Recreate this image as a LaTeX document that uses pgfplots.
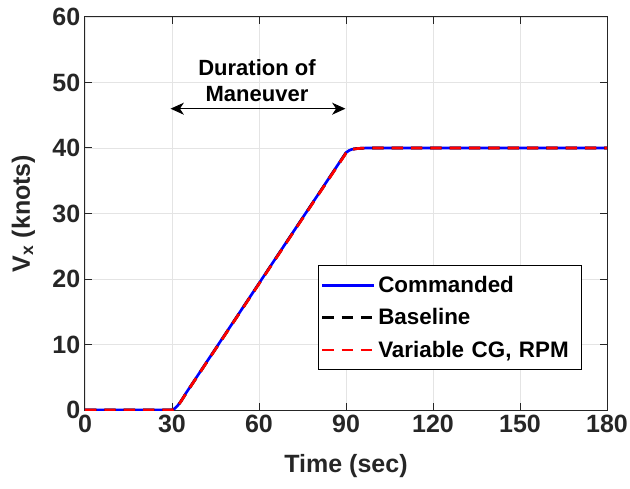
\documentclass[border=0pt]{standalone}
\usepackage{pgfplots}
\pgfplotsset{compat=1.18}
\usepackage{fontspec}
\setmainfont{Liberation Sans}
\usetikzlibrary{arrows.meta}
\pgfplotstableread{
t v
0 0
30 0
31 0.25
32 0.7
33 1.3
34 2.0
35 2.7
90 39.3
91 39.6
92 39.8
94 39.93
97 40
180 40
}\cmd
\pgfplotstableread{
t v
0 0
30 0
31 0.2
32 0.65
33 1.25
34 1.95
35 2.65
90 39.25
91 39.58
92 39.8
94 39.93
97 40
180 40
}\base
\pgfplotstableread{
t v
0 0
30 0
31 0.2
32 0.65
33 1.25
34 1.95
35 2.65
90 39.2
91 39.55
92 39.78
94 39.92
97 40
180 40
}\vari
\definecolor{axgray}{RGB}{38,38,38}
\definecolor{gridgray}{RGB}{228,228,228}
\begin{document}
\begin{tikzpicture}
\begin{axis}[
  name=ax,
  at={(0,0)}, anchor=south west,
  scale only axis,
  width=391.5pt, height=294.75pt,
  xmin=0, xmax=180, ymin=0, ymax=60,
  xtick={0,30,60,90,120,150,180},
  ytick={0,10,20,30,40,50,60},
  grid=major,
  major grid style={gridgray, line width=0.6pt},
  axis line style={axgray, line width=0.75pt},
  tick style={axgray, line width=0.75pt},
  major tick length=5pt,
  tick align=inside,
  ticklabel style={font=\fontsize{18.75}{22}\selectfont\bfseries, text=axgray},
  /pgf/number format/assume math mode=true,
  xlabel={Time (sec)},
  ylabel={V\textsubscript{x} (knots)},
  label style={font=\fontsize{18.75}{22}\selectfont\bfseries, text=axgray},
  xlabel style={at={(axis description cs:0.5,0)}, anchor=north, yshift=-30pt},
  ylabel style={at={(axis description cs:0,0.5)}, anchor=south, yshift=34pt},
  legend style={at={(axis cs:80.3,22.1)}, anchor=north west,
    font=\fontsize{16.8}{20}\selectfont\bfseries, draw=black, line width=0.6pt,
    inner xsep=2pt, inner ysep=6pt, row sep=6.5pt, text width=148pt},
  legend cell align=left,
  legend image code/.code={\draw[#1] (0pt,0pt) -- (39pt,0pt);},
]
\addplot[blue, line width=2pt] table[x=t,y=v] {\cmd};
\addlegendentry{Commanded}
\addplot[black, line width=2pt, dash pattern=on 8.5pt off 6pt] table[x=t,y=v] {\base};
\addlegendentry{Baseline}
\addplot[red, line width=2pt, dash pattern=on 8.5pt off 6pt] table[x=t,y=v] {\vari};
\addlegendentry{Variable CG, RPM}
\draw[{Stealth[length=10pt,width=9pt,inset=3pt]}-{Stealth[length=10pt,width=9pt,inset=3pt]}, line width=0.8pt, black] (axis cs:29.5,46) -- (axis cs:89.8,46);
\node[font=\fontsize{16.5}{19.5}\selectfont\bfseries, align=center, text=black] at (axis cs:59.3,50.3) {Duration of\\Maneuver};
\end{axis}
\pgfresetboundingbox
\path[use as bounding box] (-63.75pt,-58.5pt) rectangle (408.75pt,307.5pt);
\end{tikzpicture}
\end{document}
